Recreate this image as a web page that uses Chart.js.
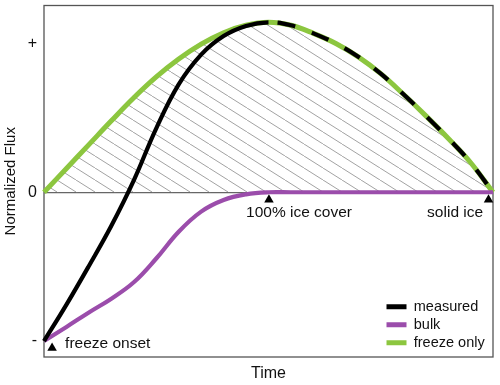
<!DOCTYPE html>
<html>
<head>
<meta charset="utf-8">
<script src="https://cdn.jsdelivr.net/npm/chart.js@4/dist/chart.umd.min.js"></script>
<style>
  html, body { margin: 0; padding: 0; background: #fff; }
  #wrap { width: 500px; height: 385px; }
</style>
</head>
<body>
<div id="wrap"><canvas id="flux" width="500" height="385"></canvas></div>
<script>
// data (time normalised 0..1, flux normalised to +/-1)
const timePoints = [0, 0.05, 0.1, 0.15, 0.2, 0.25, 0.3, 0.35, 0.4, 0.45, 0.5, 0.55, 0.6, 0.65, 0.7, 0.75, 0.8, 0.85, 0.9, 0.95, 1.0];
const measuredFlux = [-1, -0.755, -0.495, -0.225, 0.08, 0.43, 0.725, 0.925, 1.05, 1.118, 1.142, 1.122, 1.068, 1.0, 0.91, 0.797, 0.66, 0.515, 0.363, 0.2, 0];
const bulkFlux = [-1, -0.905, -0.808, -0.715, -0.605, -0.445, -0.265, -0.13, -0.052, -0.014, 0, 0, 0, 0, 0, 0, 0, 0, 0, 0, 0];
const freezeOnlyFlux = [0, 0.16, 0.32, 0.48, 0.635, 0.775, 0.895, 0.995, 1.072, 1.122, 1.142, 1.122, 1.068, 1.0, 0.91, 0.797, 0.66, 0.515, 0.363, 0.2, 0];

const yTickValues = [-1, 0, 1];
const yTickLabels = ["-", "0", "+"];

const eventNames = ["freeze onset", "100% ice cover", "solid ice"];
const eventMarkX = [0.018, 0.501, 0.99];
const eventMarkY = [-1.047, -0.05, -0.05];
const eventTextX = [0.047, 0.45, 0.978];
const eventTextY = [-1.02, -0.14, -0.14];
const eventTextAlign = ["left", "left", "right"];

const FONT = "'Liberation Sans', Arial, Helvetica, sans-serif";
const pts = (ys) => timePoints.map((x, i) => ({ x: x, y: ys[i] }));

// diagonal hatch tile
function hatch() {
  const c = document.createElement("canvas");
  c.width = 19; c.height = 12;
  const g = c.getContext("2d");
  g.strokeStyle = "#8a8a8a";
  g.lineWidth = 0.8;
  g.beginPath();
  g.moveTo(-19, -12); g.lineTo(38, 24);
  g.stroke();
  return g.createPattern(c, "repeat");
}

const frame = {
  id: "frame",
  beforeDatasetsDraw(chart) {
    const a = chart.chartArea, ctx = chart.ctx;
    ctx.save();
    ctx.strokeStyle = "#555";
    ctx.lineWidth = 1.3;
    ctx.strokeRect(a.left, a.top, a.right - a.left, a.bottom - a.top);
    ctx.restore();
  },
  afterDatasetsDraw(chart) {
    const ctx = chart.ctx, sx = chart.scales.x, sy = chart.scales.y;
    ctx.save();
    ctx.fillStyle = "#111";
    ctx.font = "15.5px " + FONT;
    ctx.textBaseline = "middle";
    eventNames.forEach((t, i) => {
      ctx.textAlign = eventTextAlign[i];
      ctx.fillText(t, sx.getPixelForValue(eventTextX[i]), sy.getPixelForValue(eventTextY[i]));
    });
    ctx.restore();
  },
  afterLayout(chart) {
    // park the legend in the lower right of the plot
    const lg = chart.legend;
    lg.left = 383;
    lg.top = 296;
    lg.bottom = 380;
  }
};

new Chart(document.getElementById("flux"), {
  type: "line",
  data: {
    datasets: [
      {
        label: "measured", data: pts(measuredFlux), order: 0,
        borderColor: "#000", backgroundColor: "#000", borderWidth: 4.2,
        segment: {
          borderDash: (c) => c.p0.parsed.x >= 0.5 ? [18, 18] : undefined,
          borderDashOffset: (c) => c.p0.parsed.x >= 0.5 ? 27 : 0
        },
        pointRadius: 0, tension: 0.4, fill: false, clip: false
      },
      {
        label: "bulk", data: pts(bulkFlux), order: 1,
        borderColor: "#9b4dab", backgroundColor: "#9b4dab", borderWidth: 4.2,
        pointRadius: 0, tension: 0.4, fill: false, clip: false
      },
      {
        label: "freeze only", data: pts(freezeOnlyFlux), order: 2,
        borderColor: "#8cc63f", backgroundColor: hatch(), borderWidth: 5,
        pointRadius: 0, tension: 0.4, fill: "origin", clip: false
      },
      {
        label: "events", type: "scatter", order: -1,
        data: eventMarkX.map((x, i) => ({ x: x, y: eventMarkY[i] })),
        pointStyle: "triangle", pointRadius: 5.5, backgroundColor: "#000", borderColor: "#000", borderWidth: 0,
        clip: false
      }
    ]
  },
  options: {
    responsive: false,
    animation: false,
    layout: { padding: { left: 0, top: 5, right: 7, bottom: 0 } },
    scales: {
      x: {
        type: "linear", min: 0, max: 1,
        ticks: { display: false },
        grid: { display: false, drawTicks: false },
        border: { display: false },
        title: { display: true, text: "Time", color: "#111", font: { family: FONT, size: 16 }, padding: { top: 2, bottom: 2 } },
        afterFit(s) { s.height = 28; s.paddingLeft = 0; s.paddingRight = 0; }
      },
      y: {
        min: -1.107, max: 1.255,
        afterBuildTicks(s) { s.ticks = yTickValues.map((v) => ({ value: v })); },
        ticks: {
          color: "#111", padding: 7, font: { family: FONT, size: 16 },
          callback: (v) => yTickLabels[yTickValues.indexOf(v)]
        },
        grid: { drawTicks: false, lineWidth: 1.2, color: (c) => c.tick && c.tick.value === 0 ? "#666" : "rgba(0,0,0,0)" },
        border: { display: false },
        title: { display: true, text: "Normalized Flux", color: "#111", font: { family: FONT, size: 15 }, padding: { top: 2, bottom: 0 } },
        afterFit(s) { s.width = 44; s.paddingTop = 0; s.paddingBottom = 0; }
      }
    },
    plugins: {
      tooltip: { enabled: false },
      legend: {
        position: "chartArea",
        align: "start",
        labels: {
          boxWidth: 20, boxHeight: 5, padding: 3.5, color: "#111",
          font: { family: FONT, size: 14.5 },
          filter: (item) => item.text !== "events",
          generateLabels(chart) {
            return Chart.defaults.plugins.legend.labels.generateLabels(chart).map((it) => {
              it.fillStyle = it.strokeStyle; it.lineWidth = 0; it.lineDash = [];
              return it;
            });
          }
        }
      }
    }
  },
  plugins: [frame]
});
</script>
</body>
</html>
